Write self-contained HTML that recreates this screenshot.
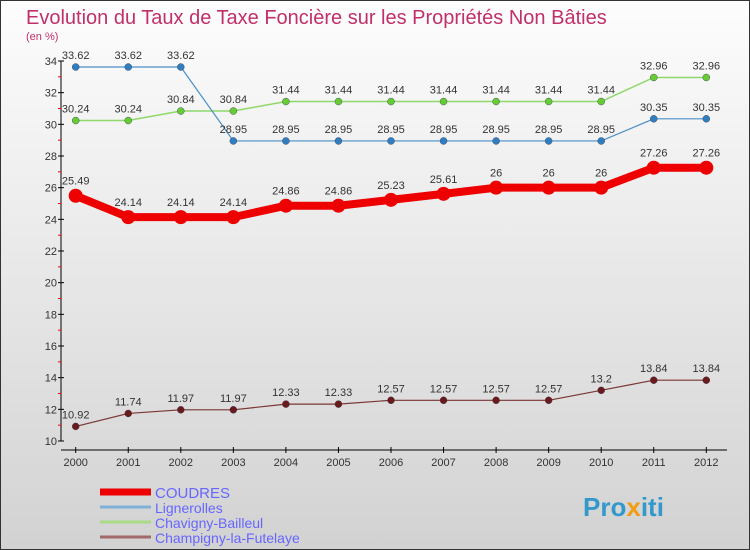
<!DOCTYPE html>
<html><head><meta charset="utf-8"><style>
body{margin:0;width:750px;height:550px;overflow:hidden;font-family:"Liberation Sans",sans-serif}
svg{display:block}
</style></head><body>
<svg id="c" width="750" height="550" xmlns="http://www.w3.org/2000/svg">
<defs><linearGradient id="bg" x1="0" y1="0" x2="0" y2="1"><stop offset="0" stop-color="#fdfdfd"/><stop offset="1" stop-color="#d2d2d2"/></linearGradient></defs>
<rect x="0.5" y="0.5" width="749" height="549" fill="url(#bg)" stroke="#333"/>
<text x="26" y="24" font-size="20" fill="#c0306a">Evolution du Taux de Taxe Foncière sur les Propriétés Non Bâties</text>
<text x="26" y="40" font-size="11" fill="#c0306a">(en %)</text>
<g id="axes"></g><g id="series"></g><g id="legend"></g>
<text x="583" y="516" font-size="26" font-weight="bold" fill="#3399cc">Pro<tspan fill="#f39c12">x</tspan>iti</text>
</svg>
<script>
const years=[2000,2001,2002,2003,2004,2005,2006,2007,2008,2009,2010,2011,2012];
const coudres=[25.49,24.14,24.14,24.14,24.86,24.86,25.23,25.61,26,26,26,27.26,27.26];
const lignerolles=[33.62,33.62,33.62,28.95,28.95,28.95,28.95,28.95,28.95,28.95,28.95,30.35,30.35];
const chavigny=[30.24,30.24,30.84,30.84,31.44,31.44,31.44,31.44,31.44,31.44,31.44,32.96,32.96];
const champigny=[10.92,11.74,11.97,11.97,12.33,12.33,12.57,12.57,12.57,12.57,13.2,13.84,13.84];
const yTicks=[10,12,14,16,18,20,22,24,26,28,30,32,34];
const names=["COUDRES","Lignerolles","Chavigny-Bailleul","Champigny-la-Futelaye"];
const NS="http://www.w3.org/2000/svg";
const X=i=>75.7+i*52.55, Y=v=>441-(v-10)*(380/24);
function mk(t,a,p){const e=document.createElementNS(NS,t);for(const k in a)e.setAttribute(k,a[k]);p.appendChild(e);return e;}
const ax=document.getElementById('axes');
let l=mk('line',{x1:61,y1:61,x2:61,y2:441,stroke:'#000'},ax);


l=mk('line',{x1:61,y1:450,x2:727,y2:450,stroke:'#000'},ax);


yTicks.forEach((v,i)=>{
 mk('line',{x1:58,x2:64,y1:Y(v),y2:Y(v),stroke:'#000'},ax);
 if(i<yTicks.length-1) mk('line',{x1:58,x2:61,y1:Y(v+1),y2:Y(v+1),stroke:'red'},ax);
 const t=mk('text',{x:57,y:Y(v)+4,'font-size':11,'text-anchor':'end',fill:'#333'},ax);t.textContent=v;
 
 
});
years.forEach((y,i)=>{
 mk('line',{x1:X(i),x2:X(i),y1:447,y2:453,stroke:'#000'},ax);
 const t=mk('text',{x:X(i),y:466,'font-size':11,'text-anchor':'middle',fill:'#333'},ax);t.textContent=y;
 
 
});
const sg=document.getElementById('series');
const cfg=[[coudres,'#ee0000','#ee0000',8,7,'coudres'],[lignerolles,'#4a90c8','#2f7fc0',1.2,3.5,'lignerolles'],[chavigny,'#8fd86a','#66cc33',1.5,3.5,'chavigny-bailleul'],[champigny,'#7a3535','#6b1a1a',1.2,3.5,'champigny-la-futelaye']];
[2,1,3,0].forEach(k=>{
 const [d,lc,pc,w,r,n]=cfg[k];
 const g=mk('g',{},sg);
 
 
 const p=mk('polyline',{points:d.map((v,i)=>X(i)+','+Y(v)).join(' '),fill:'none',stroke:lc,'stroke-width':w,'stroke-linejoin':'round'},g);
 
 
 d.forEach((v,i)=>{
  const c=mk('circle',{cx:X(i),cy:Y(v),r:r,fill:pc,stroke:k==0?'none':'#335',"stroke-width":0.4},g);
  
  
  const t=mk('text',{x:X(i),y:Y(v)-8-(k==0?3:0),'font-size':11,'text-anchor':'middle',fill:'#333'},g);t.textContent=v;
  
  
 });
});
const lg=document.getElementById('legend');
const lcols=['#ee0000','#7fb0d8','#a8dc88','#a06a6a'];
names.forEach((n,i)=>{
 const y=492+i*15;
 const g=mk('g',{},lg);
 
 
 mk('line',{x1:100,x2:151,y1:y,y2:y,stroke:lcols[i],'stroke-width':i==0?7:3},g);
 const t=mk('text',{x:155,y:y+6,'font-size':i==0?15:14,fill:'#6666ff'},g);t.textContent=n;
});
</script>
</body></html>
